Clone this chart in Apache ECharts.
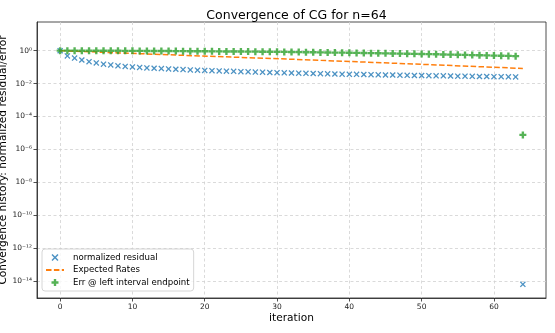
<!DOCTYPE html>
<html>
<head>
<meta charset="utf-8">
<script src="https://cdn.jsdelivr.net/npm/echarts@6/dist/echarts.min.js"></script>
<style>
  html, body { margin: 0; padding: 0; background: #fff; }
  #chart { width: 555px; height: 333px; }
</style>
</head>
<body>
<div id="chart"></div>
<script>
// values (iteration = array index)
const residual = [
  1.0, 0.479, 0.355, 0.269, 0.214, 0.178, 0.151, 0.135, 0.120, 0.110,
  0.102, 0.0955, 0.0891, 0.0851, 0.0813, 0.0776, 0.0741, 0.0708, 0.0676, 0.0646,
  0.0631, 0.0603, 0.0589, 0.0562, 0.0550, 0.0525, 0.0513, 0.0501, 0.0490, 0.0468,
  0.0457, 0.0447, 0.0437, 0.0427, 0.0417, 0.0407, 0.0398, 0.0389, 0.0380, 0.0372,
  0.0363, 0.0363, 0.0355, 0.0347, 0.0339, 0.0331, 0.0331, 0.0324, 0.0316, 0.0309,
  0.0309, 0.0302, 0.0295, 0.0295, 0.0288, 0.0282, 0.0282, 0.0275, 0.0269, 0.0269,
  0.0263, 0.0263, 0.0257, 0.0251, 6.3e-15
];
const leftErr = [
  1.0, 0.998, 0.995, 0.993, 0.991, 0.989, 0.984, 0.982, 0.977, 0.973,
  0.968, 0.964, 0.959, 0.955, 0.951, 0.944, 0.938, 0.931, 0.925, 0.918,
  0.912, 0.906, 0.900, 0.893, 0.887, 0.881, 0.875, 0.867, 0.859, 0.851,
  0.843, 0.836, 0.828, 0.817, 0.805, 0.794, 0.783, 0.773, 0.762, 0.752,
  0.741, 0.729, 0.718, 0.706, 0.695, 0.684, 0.673, 0.661, 0.649, 0.637,
  0.624, 0.611, 0.598, 0.586, 0.574, 0.562, 0.550, 0.537, 0.525, 0.513,
  0.501, 0.490, 0.479, 0.462, 7.6e-6
];
const rateIters = [0, 16, 32, 48, 64];
const rateVals = [1.0, 0.54, 0.30, 0.16, 0.083];

const xTicks = [0, 10, 20, 30, 40, 50, 60];
const yTickExps = [0, -2, -4, -6, -8, -10, -12, -14];

const FONT = 'DejaVu Sans';
const sup = { '0': '⁰', '1': '¹', '2': '²', '4': '⁴', '6': '⁶', '8': '⁸', '-': '⁻' };
const toSup = n => String(n).split('').map(c => sup[c]).join('');

const xMark = 'path://M1.5,0L5,3.5L8.5,0L10,1.5L6.5,5L10,8.5L8.5,10L5,6.5L1.5,10L0,8.5L3.5,5L0,1.5Z';
const plusFilled = 'path://M3.3,0H6.7V3.3H10V6.7H6.7V10H3.3V6.7H0V3.3H3.3Z';

const gridLine = { show: true, lineStyle: { color: '#d0d0d0', width: 0.8, type: [3, 2.5] } };

const chart = echarts.init(document.getElementById('chart'), null, { renderer: 'canvas' });
chart.setOption({
  animation: false,
  backgroundColor: '#fff',
  textStyle: { fontFamily: FONT },
  title: {
    text: 'Convergence of CG for n=64',
    left: 291.5, textAlign: 'center', top: 4,
    textStyle: { fontFamily: FONT, fontSize: 12.5, fontWeight: 'normal', color: '#000' }
  },
  grid: {
    left: 37, right: 9, top: 22, bottom: 35,
    outerBoundsMode: 'none', containLabel: false,
    show: true, borderColor: '#222', borderWidth: 0.8, backgroundColor: 'transparent'
  },
  legend: {
    orient: 'vertical', left: 42, top: 249,
    data: ['normalized residual', 'Expected Rates', 'Err @ left interval endpoint'],
    itemWidth: 18, itemHeight: 7, itemGap: 3.5,
    padding: [4, 4, 4, 3],
    backgroundColor: 'rgba(255,255,255,0.8)', borderColor: '#cccccc', borderWidth: 0.8, borderRadius: 3,
    textStyle: { fontFamily: FONT, fontSize: 8.6, color: '#000', padding: [0, 0, 0, 4] }
  },
  xAxis: {
    type: 'value', min: -3.2, max: 67.2,
    name: 'iteration', nameLocation: 'middle', nameGap: 15, nameMoveOverlap: false,
    nameTextStyle: { fontFamily: FONT, fontSize: 10.6, color: '#000' },
    axisLine: { show: true, onZero: false, lineStyle: { color: '#222', width: 0.8 } },
    axisTick: { show: true, length: 3.5, customValues: xTicks, lineStyle: { color: '#222', width: 0.8 } },
    axisLabel: { customValues: xTicks, fontFamily: FONT, fontSize: 7.5, color: '#222', margin: 5 },
    splitLine: gridLine
  },
  yAxis: {
    type: 'value', min: -15.03, max: 1.74,
    name: 'Convergence history: normalized residual/error', nameLocation: 'middle', nameGap: 28,
    nameMoveOverlap: false,
    nameTextStyle: { fontFamily: FONT, fontSize: 10.6, color: '#000' },
    axisLine: { show: true, onZero: false, lineStyle: { color: '#222', width: 0.8 } },
    axisTick: { show: true, length: 3.5, customValues: yTickExps, lineStyle: { color: '#222', width: 0.8 } },
    axisLabel: {
      customValues: yTickExps, fontFamily: FONT, fontSize: 7.5, color: '#222', margin: 5,
      formatter: v => '10' + toSup(Math.round(v))
    },
    splitLine: gridLine
  },
  series: [
    {
      name: 'normalized residual', type: 'scatter',
      symbol: xMark, symbolSize: 6, symbolKeepAspect: true,
      itemStyle: { color: '#1f77b4' },
      data: residual.map((v, i) => [i, Math.log10(v)]),
      z: 2
    },
    {
      name: 'Expected Rates', type: 'line', symbol: 'none',
      lineStyle: { color: '#ff7f0e', width: 1.5, type: [5.5, 2.4] },
      itemStyle: { color: 'rgba(0,0,0,0)', opacity: 0 },
      data: rateIters.map((it, i) => [it, Math.log10(rateVals[i])]),
      z: 3
    },
    {
      name: 'Err @ left interval endpoint', type: 'scatter',
      symbol: plusFilled, symbolSize: 7, symbolKeepAspect: true,
      itemStyle: { color: '#2ca02c' },
      data: leftErr.map((v, i) => [i, Math.log10(v)]),
      z: 4
    }
  ]
});
</script>
</body>
</html>
